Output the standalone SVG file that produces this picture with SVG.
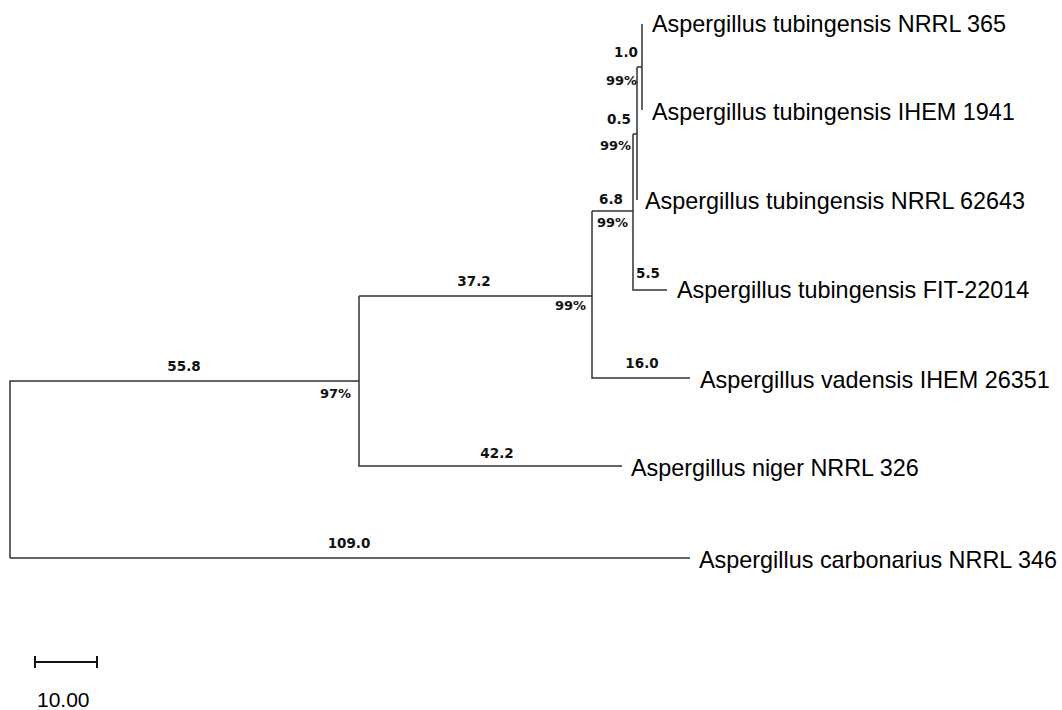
<svg xmlns="http://www.w3.org/2000/svg" width="1062" height="710" viewBox="0 0 1062 710">
<style>
.br{stroke:#333;stroke-width:1.5;fill:none}
.lf{font-family:"Liberation Sans",Arial,sans-serif;font-size:23.4px;fill:#000}
.bl{font-family:"DejaVu Sans",Verdana,sans-serif;font-size:13.5px;font-weight:bold;fill:#111;text-anchor:middle}
.bs{font-family:"DejaVu Sans",Verdana,sans-serif;font-size:13px;font-weight:bold;fill:#111;text-anchor:end}
</style>
<rect width="1062" height="710" fill="#fff"/>
<g id="connectors">
<path class="br" d="M10,558 V381 H359"/>
<path class="br" d="M10,558 H690"/>
<path class="br" d="M359,296 V466 H622"/>
<path class="br" d="M359,296 H592"/>
<path class="br" d="M592,211 V378 H690"/>
<path class="br" d="M592,211 H633"/>
<path class="br" d="M633,134 V290 H667"/>
<path class="br" d="M633,134 H637 V200"/>
<path class="br" d="M637,67 H642 M637,67 V134"/>
<path class="br" d="M642,24 V110"/>
</g>
<g id="branch-labels">
<text class="bl" x="184" y="371">55.8</text>
<text class="bs" x="351" y="398">97%</text>
<text class="bl" x="349" y="548">109.0</text>
<text class="bl" x="497" y="458">42.2</text>
<text class="bl" x="474" y="286">37.2</text>
<text class="bs" x="586" y="310">99%</text>
<text class="bl" x="642" y="368">16.0</text>
<text class="bl" x="611" y="204">6.8</text>
<text class="bs" x="628" y="227">99%</text>
<text class="bl" x="648" y="278">5.5</text>
<text class="bl" x="626" y="57">1.0</text>
<text class="bs" x="637" y="85">99%</text>
<text class="bl" x="619" y="124">0.5</text>
<text class="bs" x="631" y="150">99%</text>
</g>
<g id="leaf-365"><text class="lf" x="652" y="32">Aspergillus tubingensis NRRL 365</text></g>
<g id="leaf-1941"><text class="lf" x="652" y="120">Aspergillus tubingensis IHEM 1941</text></g>
<g id="leaf-62643"><text class="lf" x="645" y="209">Aspergillus tubingensis NRRL 62643</text></g>
<g id="leaf-22014"><text class="lf" x="677" y="298">Aspergillus tubingensis FIT-22014</text></g>
<g id="leaf-26351"><text class="lf" x="700" y="388">Aspergillus vadensis IHEM 26351</text></g>
<g id="leaf-326"><text class="lf" x="631" y="476">Aspergillus niger NRRL 326</text></g>
<g id="leaf-346"><text class="lf" x="699" y="568">Aspergillus carbonarius NRRL 346</text></g>
<g id="scale-bar">
<path stroke="#111" stroke-width="2" fill="none" d="M35,662 H97 M35,656 V668 M97,656 V668"/>
<text class="lf" x="37" y="707" style="font-size:21px">10.00</text>
</g>
</svg>
